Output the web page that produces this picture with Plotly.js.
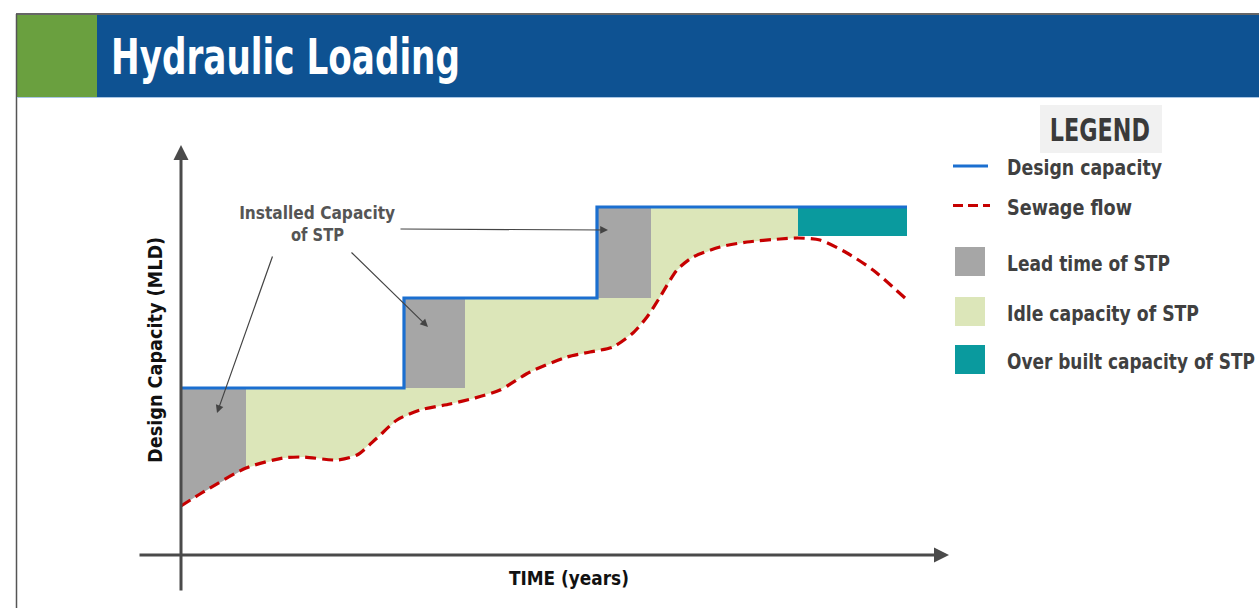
<!DOCTYPE html>
<html>
<head>
<meta charset="utf-8">
<script src="https://cdn.plot.ly/plotly-3.0.1.min.js"></script>
<style>html,body{margin:0;padding:0;background:#fff;}#chart{width:1259px;height:608px;}</style>
</head>
<body>
<div id="chart"></div>
<script>
// ---- Data (conceptual units: time in years, capacity in MLD) ----
const timeYears  = [0, 1.9, 6.5, 10.2, 12.2, 15.6, 17.6, 19.6, 21.6, 23.9, 26.9, 29.4, 31.9, 34.9, 38.6, 40.9, 43.2, 45.2, 46.6, 47.9, 49.6, 51.2, 53.9, 56.6, 59.9, 61.7, 63.9, 66.6, 69.2, 72.4];
const sewageFlow = [4.9, 6.1, 8.7, 9.7, 9.8, 9.5, 10.0, 11.7, 13.5, 14.5, 15.1, 15.7, 16.5, 18.3, 19.8, 20.3, 20.8, 22.2, 23.8, 25.8, 28.5, 29.8, 30.8, 31.3, 31.6, 31.7, 31.5, 30.2, 28.5, 25.7];
const capacityTimes  = [0, 22.3, 41.6, 72.6];
const capacityLevels = [16.7, 25.7, 34.8];
const leadStart = [0, 22.3, 41.6];
const leadEnd   = [6.5, 28.4, 47.0];
const overbuiltStart = 61.7;
const overbuiltFloor = 31.9;

const legendLabels = ["Design capacity", "Sewage flow", "Lead time of STP", "Idle capacity of STP", "Over built capacity of STP"];
const titleText = "Hydraulic Loading";
const xTitle = "TIME (years)";
const yTitle = "Design Capacity (MLD)";
const calloutLines = ["Installed Capacity", "of STP"];

// ---- Styles ----
const FONT = "'DejaVu Sans', 'Liberation Sans', sans-serif";
const C = {blue:'#1b6fd0', red:'#c60000', gray:'#a6a6a6', idle:'#dce6b9', teal:'#0a9a9e',
           axis:'#4a4a4a', header:'#0e5292', green:'#6aa03f'};

function flowAt(t){
  for(let i=0;i<timeYears.length-1;i++){
    if(t>=timeYears[i] && t<=timeYears[i+1]){
      const f=(t-timeYears[i])/(timeYears[i+1]-timeYears[i]);
      return sewageFlow[i]+f*(sewageFlow[i+1]-sewageFlow[i]);
    }
  }
  return sewageFlow[sewageFlow.length-1];
}
function curveBetween(t0,t1){ // points from t1 back to t0
  const xs=[t1], ys=[flowAt(t1)];
  for(let i=timeYears.length-1;i>=0;i--){
    if(timeYears[i]<t1 && timeYears[i]>t0){xs.push(timeYears[i]);ys.push(sewageFlow[i]);}
  }
  xs.push(t0); ys.push(flowAt(t0));
  return [xs,ys];
}

const traces=[];
// Idle capacity polygon
(function(){
  const xs=[leadEnd[0]], ys=[capacityLevels[0]];
  for(let k=1;k<capacityLevels.length;k++){
    xs.push(capacityTimes[k]); ys.push(capacityLevels[k-1]);
    xs.push(capacityTimes[k]); ys.push(capacityLevels[k]);
  }
  xs.push(overbuiltStart); ys.push(capacityLevels[capacityLevels.length-1]);
  const [cx,cy]=curveBetween(leadEnd[0],overbuiltStart);
  traces.push({x:xs.concat(cx), y:ys.concat(cy), type:'scatter', mode:'lines', fill:'toself',
    fillcolor:C.idle, line:{width:0,color:C.idle}, hoverinfo:'skip'});
})();
// Lead time blocks
for(let k=0;k<leadStart.length;k++){
  let xs, ys;
  if(k===0){
    const [cx,cy]=curveBetween(leadStart[0],leadEnd[0]);
    xs=[leadStart[0],leadEnd[0]].concat(cx); ys=[capacityLevels[0],capacityLevels[0]].concat(cy);
  } else {
    xs=[leadStart[k],leadEnd[k],leadEnd[k],leadStart[k],leadStart[k]];
    ys=[capacityLevels[k],capacityLevels[k],capacityLevels[k-1],capacityLevels[k-1],capacityLevels[k]];
  }
  traces.push({x:xs,y:ys,type:'scatter',mode:'lines',fill:'toself',fillcolor:C.gray,
    line:{width:0,color:C.gray},hoverinfo:'skip'});
}
// Over built capacity
(function(){
  const top=capacityLevels[capacityLevels.length-1], end=capacityTimes[capacityTimes.length-1];
  traces.push({x:[overbuiltStart,end,end,overbuiltStart,overbuiltStart],
    y:[top,top,overbuiltFloor,overbuiltFloor,top],type:'scatter',mode:'lines',fill:'toself',
    fillcolor:C.teal,line:{width:0,color:C.teal},hoverinfo:'skip'});
})();
// Sewage flow
traces.push({x:timeYears,y:sewageFlow,type:'scatter',mode:'lines',
  line:{color:C.red,width:3.2,dash:'11px,6px',shape:'spline',smoothing:0.7},hoverinfo:'skip'});
// Design capacity step line
traces.push({x:capacityTimes,y:capacityLevels.concat([capacityLevels[capacityLevels.length-1]]),
  type:'scatter',mode:'lines',line:{color:C.blue,width:3.2,shape:'hv'},hoverinfo:'skip'});

// ---- Page coordinate helpers (decoration only) ----
const W=1259,H=608;
const px=v=>v/W, py=v=>1-v/H;

const shapes=[
  {type:'line',xref:'paper',yref:'paper',x0:px(16),x1:px(1259),y0:py(14),y1:py(14),line:{color:'#666',width:2}},
  {type:'line',xref:'paper',yref:'paper',x0:px(16.5),x1:px(16.5),y0:py(14),y1:py(608),line:{color:'#555',width:1.5}},
  {type:'rect',xref:'paper',yref:'paper',x0:px(17),x1:px(97),y0:py(15),y1:py(97),fillcolor:C.green,line:{width:0},layer:'below'},
  {type:'rect',xref:'paper',yref:'paper',x0:px(97),x1:px(1259),y0:py(15),y1:py(97),fillcolor:C.header,line:{width:0},layer:'below'},
  {type:'line',xref:'paper',yref:'paper',x0:px(17),x1:px(1259),y0:py(97.5),y1:py(97.5),line:{color:'#a9c6e4',width:1}},
  {type:'rect',xref:'paper',yref:'paper',x0:px(1040),x1:px(1162),y0:py(105),y1:py(153),fillcolor:'#f1f1f1',line:{width:0},layer:'below'},
  {type:'line',xref:'paper',yref:'paper',x0:px(953),x1:px(988),y0:py(166),y1:py(166),line:{color:C.blue,width:3}},
  {type:'line',xref:'paper',yref:'paper',x0:px(953),x1:px(990),y0:py(205.5),y1:py(205.5),line:{color:C.red,width:3,dash:'10px,5px'}},
  {type:'rect',xref:'paper',yref:'paper',x0:px(955),x1:px(985),y0:py(247),y1:py(276),fillcolor:C.gray,line:{width:0}},
  {type:'rect',xref:'paper',yref:'paper',x0:px(955),x1:px(985),y0:py(297),y1:py(326),fillcolor:C.idle,line:{width:0}},
  {type:'rect',xref:'paper',yref:'paper',x0:px(955),x1:px(985),y0:py(345),y1:py(374),fillcolor:C.teal,line:{width:0}}
];

// annotations; fit[i] = condensed target width (px) of annotation i's text
const annotations=[], fit=[];
function addAnn(a, width){ annotations.push(a); fit.push(width||0); }

addAnn({xref:'paper',yref:'paper',x:px(109),y:py(57),xanchor:'left',yanchor:'middle',align:'left',showarrow:false,
   text:'<b>'+titleText+'</b>',font:{family:FONT,size:50,color:'#ffffff'}}, 349);
addAnn({xref:'paper',yref:'paper',x:px(1100),y:py(130),xanchor:'center',yanchor:'middle',showarrow:false,
   text:'<b>LEGEND</b>',font:{family:FONT,size:32,color:'#3a3a3a'}}, 100);
// axes arrows
addAnn({x:0,y:41.0,ax:0,ay:-3.7,xref:'x',yref:'y',axref:'x',ayref:'y',text:'',showarrow:true,
   arrowhead:2,arrowsize:1,arrowwidth:3,arrowcolor:C.axis});
addAnn({x:76.8,y:0,ax:-4.3,ay:0,xref:'x',yref:'y',axref:'x',ayref:'y',text:'',showarrow:true,
   arrowhead:2,arrowsize:1,arrowwidth:3,arrowcolor:C.axis});
// axis titles
addAnn({xref:'paper',yref:'paper',x:px(569),y:py(578),xanchor:'center',yanchor:'middle',showarrow:false,
   text:'<b>'+xTitle+'</b>',font:{family:FONT,size:20,color:'#111'}}, 120);
addAnn({xref:'paper',yref:'paper',x:px(155),y:py(350),xanchor:'center',yanchor:'middle',showarrow:false,textangle:-90,
   text:'<b>'+yTitle+'</b>',font:{family:FONT,size:20,color:'#111'}}, 226);
// callout text
addAnn({x:13.6,y:34.3,xref:'x',yref:'y',showarrow:false,
   text:'<b>'+calloutLines[0]+'</b>',font:{family:FONT,size:18,color:'#555'}}, 156);
addAnn({x:13.6,y:32.1,xref:'x',yref:'y',showarrow:false,
   text:'<b>'+calloutLines[1]+'</b>',font:{family:FONT,size:18,color:'#555'}}, 53);
// callout arrows
addAnn({x:3.6,y:14.2,ax:9.2,ay:30.0,xref:'x',yref:'y',axref:'x',ayref:'y',text:'',showarrow:true,
   arrowhead:2,arrowsize:1.3,arrowwidth:1.2,arrowcolor:'#444'});
addAnn({x:24.7,y:22.8,ax:16.9,ay:30.4,xref:'x',yref:'y',axref:'x',ayref:'y',text:'',showarrow:true,
   arrowhead:2,arrowsize:1.3,arrowwidth:1.2,arrowcolor:'#444'});
addAnn({x:42.7,y:32.5,ax:21.8,ay:32.6,xref:'x',yref:'y',axref:'x',ayref:'y',text:'',showarrow:true,
   arrowhead:2,arrowsize:1.3,arrowwidth:1.2,arrowcolor:'#444'});
// legend labels
const legendY=[168,208,264,314,362];
const legendW=[155,125,163,192,248];
legendLabels.forEach((t,i)=>addAnn({xref:'paper',yref:'paper',x:px(1005),y:py(legendY[i]),
  xanchor:'left',yanchor:'middle',align:'left',showarrow:false,text:'<b>'+t+'</b>',
  font:{family:FONT,size:21,color:'#404040'}}, legendW[i]));

const layout={width:W,height:H,margin:{l:0,r:0,t:0,b:0},paper_bgcolor:'#fff',plot_bgcolor:'rgba(0,0,0,0)',
  showlegend:false,
  xaxis:{range:[-18.1,107.8],visible:false,fixedrange:true},
  yaxis:{range:[-5.3,55.5],visible:false,fixedrange:true},
  shapes:shapes,annotations:annotations};

Plotly.newPlot('chart',traces,layout,{displayModeBar:false,staticPlot:true}).then(function(gd){
  // condense the bold text to the narrow proportions of the original typeface
  gd.querySelectorAll('g.annotation').forEach(function(g){
    const idx=+g.getAttribute('data-index');
    const w=fit[idx];
    if(!w) return;
    const t=g.querySelector('text.annotation-text');
    if(!t) return;
    const orig=t.getComputedTextLength();
    t.setAttribute('textLength', w);
    t.setAttribute('lengthAdjust', 'spacingAndGlyphs');
    // keep the (invisible) annotation box in step with the condensed text
    const bg=g.querySelector('rect.bg');
    if(bg && orig>w){
      const bw=+bg.getAttribute('width'), bx=+bg.getAttribute('x')||0;
      const nw=Math.max(bw-(orig-w),1);
      const alignLeft=(annotations[idx].align==='left');
      bg.setAttribute('width', nw);
      if(!alignLeft) bg.setAttribute('x', bx+(bw-nw)/2);
    }
  });
});
</script>
</body>
</html>
